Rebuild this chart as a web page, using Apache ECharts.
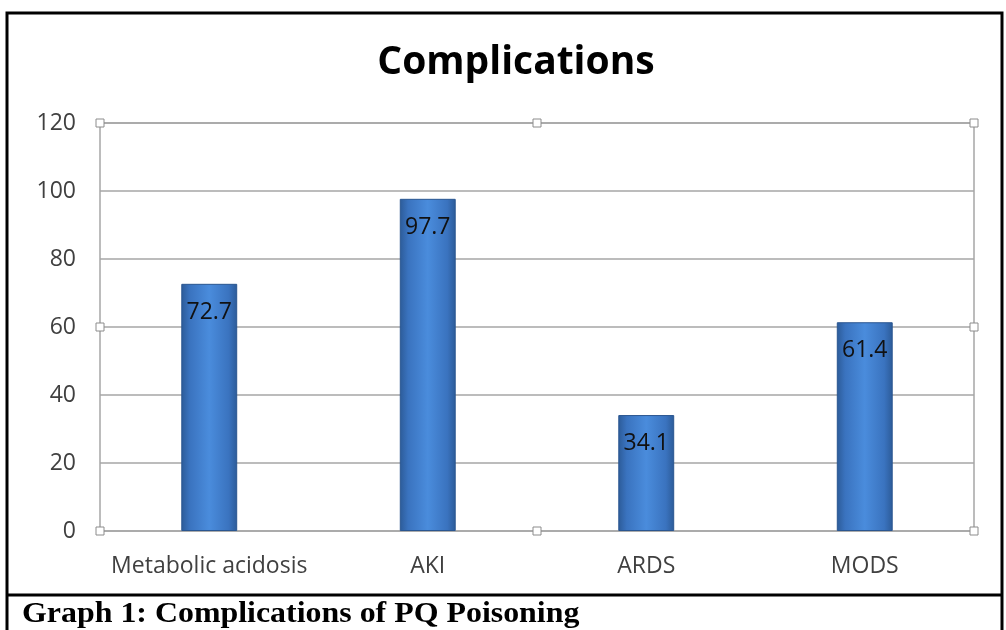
<!DOCTYPE html>
<html>
<head>
<meta charset="utf-8">
<script src="https://cdn.jsdelivr.net/npm/echarts@6/dist/echarts.min.js"></script>
<style>
html,body{margin:0;padding:0;background:#fff;}
#main{width:1006px;height:630px;}
</style>
</head>
<body>
<div id="main"></div>
<script>
var categories = ['Metabolic acidosis', 'AKI', 'ARDS', 'MODS'];
var values = [72.7, 97.7, 34.1, 61.4];
var yTicks = [0, 20, 40, 60, 80, 100, 120];

var chart = echarts.init(document.getElementById('main'));

// plot box, same numbers as the grid below
var L = 100, T = 123, R = 974, B = 531;
var midX = (L + R) / 2, midY = (T + B) / 2;
var handles = [[L, T], [midX, T], [R, T], [L, midY], [R, midY], [L, B], [midX, B], [R, B]].map(function (p) {
  return {
    type: 'rect', z: 10,
    shape: { x: p[0] - 4, y: p[1] - 4, width: 8, height: 8 },
    style: { fill: '#fff', stroke: '#8c8c8c', lineWidth: 1 }
  };
});

var barColor = {
  type: 'linear', x: 0, y: 0, x2: 1, y2: 0,
  colorStops: [
    { offset: 0, color: '#2c5b98' },
    { offset: 0.15, color: '#3a73bf' },
    { offset: 0.5, color: '#4a8cdc' },
    { offset: 0.85, color: '#3a73bf' },
    { offset: 1, color: '#2c5b98' }
  ]
};

var option = {
  backgroundColor: '#fff',
  animation: false,
  title: {
    text: 'Complications',
    left: 511, top: 38, textAlign: 'center',
    textStyle: { fontFamily: 'Open Sans', fontWeight: 'bold', fontSize: 39, color: '#000' }
  },
  grid: {
    left: L, top: T, right: 1006 - R, bottom: 630 - B,
    show: true, borderColor: '#a6a6a6', borderWidth: 1.5
  },
  xAxis: {
    type: 'category',
    data: categories,
    axisLine: { show: false },
    axisTick: { show: false },
    axisLabel: { interval: 0, margin: 24, fontFamily: 'Open Sans', fontSize: 23, color: '#404040' }
  },
  yAxis: {
    type: 'value',
    min: yTicks[0], max: yTicks[yTicks.length - 1], interval: 20,
    axisLine: { show: false },
    axisTick: { show: false },
    splitLine: { lineStyle: { color: '#a6a6a6', width: 1.5 } },
    axisLabel: { margin: 24, fontFamily: 'Open Sans', fontSize: 23, color: '#404040' }
  },
  series: [{
    type: 'bar',
    data: values,
    barWidth: '25.6%',
    itemStyle: { color: barColor, borderColor: '#2a5690', borderWidth: 1 },
    label: {
      show: true, position: 'insideTop', distance: 17,
      fontFamily: 'Open Sans', fontSize: 23, color: '#111'
    }
  }],
  graphic: handles.concat([
    {
      type: 'polyline', z: 20,
      shape: { points: [[7, 630], [7, 13], [1002, 13], [1002, 630]] },
      style: { stroke: '#000', lineWidth: 3, fill: null }
    },
    {
      type: 'line', z: 20,
      shape: { x1: 7, y1: 595, x2: 1002, y2: 595 },
      style: { stroke: '#000', lineWidth: 3 }
    },
    {
      type: 'text', z: 20, x: 22, y: 600, scaleX: 1.1,
      style: {
        text: 'Graph 1: Complications of PQ Poisoning',
        font: 'bold 29px "Liberation Serif"', fill: '#000'
      }
    }
  ])
};
chart.setOption(option);
</script>
</body>
</html>
